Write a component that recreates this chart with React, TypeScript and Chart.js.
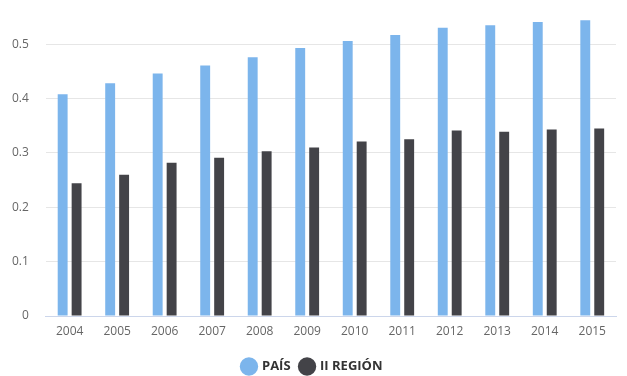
import React, { useEffect, useRef } from "react";
import { Chart, registerables } from "chart.js";

Chart.register(...registerables);

const categories = ["2004", "2005", "2006", "2007", "2008", "2009", "2010", "2011", "2012", "2013", "2014", "2015"];
const paisValues = [0.408, 0.428, 0.446, 0.461, 0.476, 0.493, 0.506, 0.517, 0.53, 0.535, 0.541, 0.544];
const regionValues = [0.244, 0.26, 0.282, 0.291, 0.303, 0.31, 0.321, 0.325, 0.341, 0.339, 0.343, 0.345];
const seriesNames = ["PAÍS", "II REGIÓN"];
const yTicks = [0, 0.1, 0.2, 0.3, 0.4, 0.5];

export default function App() {
  const ref = useRef<HTMLCanvasElement | null>(null);
  useEffect(() => {
    document.body.style.margin = "0";
    const ctx = ref.current!;
    const font = "'Open Sans', 'DejaVu Sans', sans-serif";
    const chart = new Chart(ctx, {
      type: "bar",
      data: {
        labels: categories,
        datasets: [
          { label: seriesNames[0], data: paisValues, backgroundColor: "#7cb5ec", categoryPercentage: 0.587, barPercentage: 0.71 },
          { label: seriesNames[1], data: regionValues, backgroundColor: "#434348", categoryPercentage: 0.587, barPercentage: 0.71 },
        ],
      },
      options: {
        animation: false,
        responsive: false,
        maintainAspectRatio: false,
        layout: { padding: { left: 9, right: 11, top: 17, bottom: -7 } },
        plugins: {
          tooltip: { enabled: false },
          legend: {
            position: "bottom",
            labels: {
              usePointStyle: true,
              pointStyle: "circle",
              boxWidth: 13,
              boxHeight: 13,
              padding: 10,
              color: "#333333",
              font: { family: font, size: 13, weight: "bold" },
            },
          },
        },
        scales: {
          x: {
            grid: { display: false, drawTicks: true, tickLength: 6 },
            border: { display: true, color: "#ccd6eb" },
            ticks: { color: "#666666", font: { family: font, size: 12 }, padding: 2, maxRotation: 0 },
            title: { display: true, text: "", padding: 0, font: { size: 8, lineHeight: 1.2 } },
          },
          y: {
            min: 0,
            max: 0.55,
            afterBuildTicks: (scale: any) => {
              scale.ticks = yTicks.map((v) => ({ value: v }));
            },
            grid: { color: "#e6e6e6", drawTicks: true, tickLength: 14, tickColor: "rgba(0,0,0,0)" },
            border: { display: false },
            ticks: {
              color: "#666666",
              font: { family: font, size: 12 },
              padding: 3,
              callback: (v: any) => (v === 0 ? "0" : Number(v).toFixed(1)),
            },
          },
        },
      },
    });
    return () => chart.destroy();
  }, []);
  return <canvas ref={ref} width={627} height={376} style={{ display: "block" }} />;
}
